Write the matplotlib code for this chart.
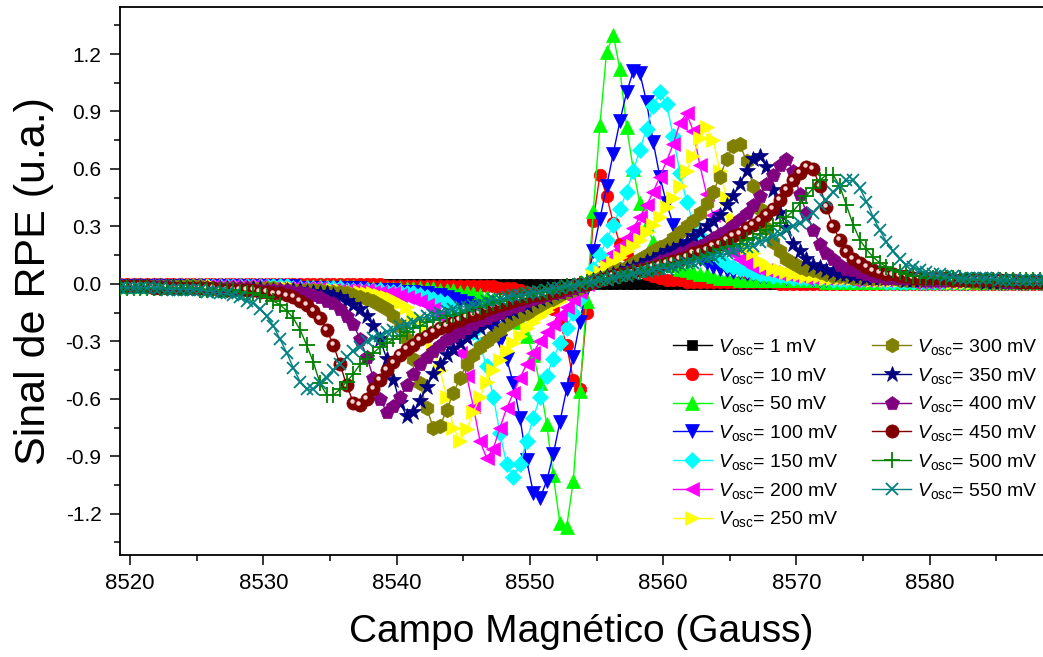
import numpy as np
import matplotlib
matplotlib.use("Agg")
import matplotlib.pyplot as plt
import matplotlib.transforms as mtransforms
from matplotlib.ticker import MultipleLocator, FixedLocator, FormatStrFormatter

plt.rcParams['font.family'] = ['Liberation Sans', 'DejaVu Sans']
plt.rcParams['mathtext.fontset'] = 'custom'
plt.rcParams['mathtext.rm'] = 'Liberation Sans'
plt.rcParams['mathtext.it'] = 'Liberation Sans:italic'
plt.rcParams['axes.unicode_minus'] = False

# varredura do campo: 8519.25 G ... 8588.75 G, passo 0.5 G (140 pontos)
FIELD_START = 8519.25
FIELD_STEP = 0.5
N_POINTS = 140

v_osc = ["1 mV", "10 mV", "50 mV", "100 mV", "150 mV", "200 mV", "250 mV",
         "300 mV", "350 mV", "400 mV", "450 mV", "500 mV", "550 mV"]

sinal_1 = [
    0.00, 0.00, 0.00, 0.00, 0.00, 0.00, 0.00, 0.00, 0.00, 0.00,
    0.00, 0.00, 0.00, 0.00, 0.00, 0.00, 0.00, 0.00, 0.00, 0.00,
    0.00, 0.00, 0.00, 0.00, 0.00, 0.00, 0.00, 0.00, 0.00, 0.00,
    0.00, 0.00, 0.00, 0.00, 0.00, 0.00, 0.00, 0.00, 0.00, 0.00,
    0.00, 0.00, 0.00, 0.00, 0.00, 0.00, 0.00, 0.00, 0.00, 0.00,
    0.00, 0.00, 0.00, 0.00, 0.00, 0.00, 0.00, 0.00, 0.00, 0.00,
    0.00, 0.00, 0.00, 0.00, 0.00, 0.00, 0.00, 0.00, 0.00, -0.01,
    0.00, 0.01, 0.00, 0.00, 0.00, 0.00, 0.00, 0.00, 0.00, 0.00,
    0.00, 0.00, 0.00, 0.00, 0.00, 0.00, 0.00, 0.00, 0.00, 0.00,
    0.00, 0.00, 0.00, 0.00, 0.00, 0.00, 0.00, 0.00, 0.00, 0.00,
    0.00, 0.00, 0.00, 0.00, 0.00, 0.00, 0.00, 0.00, 0.00, 0.00,
    0.00, 0.00, 0.00, 0.00, 0.00, 0.00, 0.00, 0.00, 0.00, 0.00,
    0.00, 0.00, 0.00, 0.00, 0.00, 0.00, 0.00, 0.00, 0.00, 0.00,
    0.00, 0.00, 0.00, 0.00, 0.00, 0.00, 0.00, 0.00, 0.00, 0.00,
]
sinal_10 = [
    0.00, 0.00, 0.00, 0.00, 0.00, 0.00, 0.00, 0.00, 0.00, 0.00,
    0.00, 0.00, 0.00, 0.00, 0.00, 0.00, 0.00, 0.00, 0.00, 0.00,
    0.00, 0.00, 0.00, 0.00, 0.00, 0.00, 0.00, 0.00, 0.00, 0.00,
    0.00, 0.00, 0.00, 0.00, 0.00, 0.00, 0.00, 0.00, 0.00, 0.00,
    -0.01, -0.01, -0.01, -0.01, -0.01, -0.01, -0.01, -0.01, -0.01, -0.01,
    -0.01, -0.01, -0.01, -0.01, -0.01, -0.01, -0.01, -0.02, -0.02, -0.02,
    -0.03, -0.04, -0.05, -0.07, -0.09, -0.13, -0.20, -0.32, -0.50, -0.55,
    -0.15, 0.33, 0.57, 0.46, 0.32, 0.21, 0.15, 0.10, 0.07, 0.05,
    0.04, 0.03, 0.02, 0.02, 0.02, 0.01, 0.01, 0.01, 0.01, 0.01,
    0.01, 0.01, 0.01, 0.01, 0.01, 0.01, 0.01, 0.01, 0.01, 0.00,
    0.00, 0.00, 0.00, 0.00, 0.00, 0.00, 0.00, 0.00, 0.00, 0.00,
    0.00, 0.00, 0.00, 0.00, 0.00, 0.00, 0.00, 0.00, 0.00, 0.00,
    0.00, 0.00, 0.00, 0.00, 0.00, 0.00, 0.00, 0.00, 0.00, 0.00,
    0.00, 0.00, 0.00, 0.00, 0.00, 0.00, 0.00, 0.00, 0.00, 0.00,
]
sinal_50 = [
    -0.01, -0.01, -0.01, -0.01, -0.01, -0.01, -0.01, -0.01, -0.01, -0.01,
    -0.01, -0.01, -0.01, -0.01, -0.01, -0.01, -0.01, -0.01, -0.01, -0.01,
    -0.01, -0.01, -0.01, -0.01, -0.01, -0.01, -0.01, -0.01, -0.01, -0.01,
    -0.01, -0.01, -0.01, -0.01, -0.01, -0.01, -0.02, -0.02, -0.02, -0.02,
    -0.02, -0.02, -0.02, -0.02, -0.02, -0.02, -0.02, -0.02, -0.03, -0.03,
    -0.03, -0.04, -0.04, -0.05, -0.06, -0.07, -0.08, -0.09, -0.12, -0.15,
    -0.20, -0.27, -0.37, -0.52, -0.73, -1.00, -1.25, -1.27, -1.03, -0.56,
    -0.09, 0.38, 0.83, 1.21, 1.30, 1.12, 0.82, 0.60, 0.42, 0.31,
    0.22, 0.17, 0.13, 0.10, 0.08, 0.07, 0.06, 0.05, 0.05, 0.04,
    0.03, 0.03, 0.03, 0.02, 0.02, 0.02, 0.02, 0.02, 0.02, 0.02,
    0.02, 0.02, 0.02, 0.02, 0.02, 0.02, 0.01, 0.01, 0.01, 0.01,
    0.01, 0.01, 0.01, 0.01, 0.01, 0.01, 0.01, 0.01, 0.01, 0.01,
    0.01, 0.01, 0.01, 0.01, 0.01, 0.01, 0.01, 0.01, 0.01, 0.01,
    0.01, 0.01, 0.01, 0.01, 0.01, 0.01, 0.01, 0.01, 0.01, 0.01,
]
sinal_100 = [
    -0.01, -0.01, -0.01, -0.01, -0.01, -0.01, -0.01, -0.01, -0.01, -0.01,
    -0.01, -0.01, -0.01, -0.01, -0.01, -0.01, -0.01, -0.01, -0.01, -0.01,
    -0.01, -0.01, -0.01, -0.01, -0.01, -0.01, -0.01, -0.02, -0.02, -0.02,
    -0.02, -0.02, -0.02, -0.02, -0.02, -0.02, -0.02, -0.03, -0.03, -0.03,
    -0.03, -0.03, -0.04, -0.04, -0.04, -0.05, -0.05, -0.06, -0.06, -0.07,
    -0.08, -0.09, -0.10, -0.12, -0.15, -0.18, -0.23, -0.30, -0.39, -0.52,
    -0.70, -0.92, -1.09, -1.12, -1.03, -0.89, -0.72, -0.55, -0.38, -0.20,
    -0.02, 0.17, 0.34, 0.51, 0.68, 0.85, 1.00, 1.11, 1.10, 0.95,
    0.74, 0.56, 0.42, 0.31, 0.25, 0.19, 0.16, 0.13, 0.11, 0.09,
    0.08, 0.07, 0.06, 0.06, 0.05, 0.05, 0.04, 0.04, 0.04, 0.04,
    0.03, 0.03, 0.03, 0.03, 0.02, 0.02, 0.02, 0.02, 0.02, 0.02,
    0.02, 0.02, 0.02, 0.02, 0.02, 0.02, 0.02, 0.02, 0.02, 0.02,
    0.02, 0.02, 0.01, 0.01, 0.01, 0.01, 0.01, 0.01, 0.01, 0.01,
    0.01, 0.01, 0.01, 0.01, 0.01, 0.01, 0.01, 0.01, 0.01, 0.01,
]
sinal_150 = [
    -0.01, -0.01, -0.01, -0.01, -0.01, -0.01, -0.01, -0.01, -0.01, -0.01,
    -0.01, -0.01, -0.01, -0.01, -0.01, -0.01, -0.01, -0.01, -0.01, -0.01,
    -0.01, -0.01, -0.01, -0.01, -0.01, -0.01, -0.02, -0.02, -0.02, -0.02,
    -0.02, -0.02, -0.02, -0.02, -0.03, -0.03, -0.03, -0.03, -0.03, -0.03,
    -0.04, -0.04, -0.04, -0.05, -0.05, -0.06, -0.07, -0.08, -0.09, -0.10,
    -0.13, -0.16, -0.20, -0.25, -0.32, -0.43, -0.59, -0.78, -0.94, -1.01,
    -0.94, -0.82, -0.70, -0.59, -0.48, -0.39, -0.31, -0.23, -0.15, -0.08,
    0.00, 0.08, 0.15, 0.23, 0.31, 0.39, 0.48, 0.59, 0.70, 0.81,
    0.93, 1.00, 0.94, 0.77, 0.58, 0.43, 0.32, 0.25, 0.20, 0.16,
    0.13, 0.10, 0.09, 0.08, 0.07, 0.06, 0.05, 0.05, 0.04, 0.04,
    0.04, 0.03, 0.03, 0.03, 0.03, 0.03, 0.03, 0.02, 0.02, 0.02,
    0.02, 0.02, 0.02, 0.02, 0.02, 0.01, 0.01, 0.01, 0.01, 0.01,
    0.01, 0.01, 0.01, 0.01, 0.01, 0.01, 0.01, 0.01, 0.01, 0.01,
    0.01, 0.01, 0.01, 0.01, 0.01, 0.01, 0.01, 0.01, 0.01, 0.01,
]
sinal_200 = [
    -0.01, -0.01, -0.01, -0.01, -0.01, -0.01, -0.01, -0.01, -0.01, -0.01,
    -0.01, -0.01, -0.01, -0.01, -0.01, -0.01, -0.01, -0.01, -0.01, -0.01,
    -0.01, -0.01, -0.02, -0.02, -0.02, -0.02, -0.02, -0.02, -0.02, -0.02,
    -0.02, -0.03, -0.03, -0.03, -0.03, -0.03, -0.03, -0.03, -0.04, -0.04,
    -0.05, -0.05, -0.06, -0.07, -0.08, -0.09, -0.11, -0.13, -0.17, -0.21,
    -0.26, -0.36, -0.48, -0.64, -0.82, -0.91, -0.86, -0.75, -0.65, -0.57,
    -0.49, -0.42, -0.36, -0.30, -0.25, -0.21, -0.16, -0.12, -0.08, -0.04,
    0.00, 0.04, 0.08, 0.12, 0.16, 0.20, 0.24, 0.29, 0.35, 0.41,
    0.48, 0.56, 0.64, 0.73, 0.84, 0.89, 0.80, 0.62, 0.47, 0.36,
    0.26, 0.20, 0.16, 0.13, 0.11, 0.09, 0.08, 0.07, 0.06, 0.05,
    0.05, 0.04, 0.04, 0.03, 0.03, 0.03, 0.03, 0.03, 0.03, 0.03,
    0.02, 0.02, 0.02, 0.02, 0.02, 0.02, 0.02, 0.02, 0.02, 0.01,
    0.01, 0.01, 0.01, 0.01, 0.01, 0.01, 0.01, 0.01, 0.01, 0.01,
    0.01, 0.01, 0.01, 0.01, 0.01, 0.01, 0.01, 0.01, 0.01, 0.01,
]
sinal_250 = [
    -0.01, -0.01, -0.01, -0.01, -0.01, -0.01, -0.01, -0.01, -0.01, -0.01,
    -0.01, -0.01, -0.01, -0.01, -0.01, -0.02, -0.02, -0.02, -0.02, -0.02,
    -0.02, -0.02, -0.02, -0.02, -0.02, -0.02, -0.02, -0.03, -0.03, -0.03,
    -0.03, -0.03, -0.03, -0.03, -0.04, -0.04, -0.04, -0.05, -0.05, -0.06,
    -0.07, -0.08, -0.10, -0.12, -0.16, -0.19, -0.25, -0.34, -0.45, -0.59,
    -0.75, -0.82, -0.76, -0.67, -0.59, -0.51, -0.45, -0.40, -0.35, -0.31,
    -0.27, -0.23, -0.20, -0.17, -0.14, -0.11, -0.09, -0.06, -0.04, -0.01,
    0.01, 0.04, 0.06, 0.09, 0.11, 0.14, 0.17, 0.20, 0.23, 0.27,
    0.31, 0.35, 0.40, 0.45, 0.51, 0.59, 0.67, 0.76, 0.82, 0.75,
    0.59, 0.45, 0.34, 0.25, 0.19, 0.16, 0.12, 0.10, 0.08, 0.07,
    0.06, 0.05, 0.05, 0.04, 0.04, 0.04, 0.03, 0.03, 0.03, 0.03,
    0.03, 0.03, 0.03, 0.02, 0.02, 0.02, 0.02, 0.02, 0.02, 0.02,
    0.02, 0.02, 0.02, 0.02, 0.02, 0.01, 0.01, 0.01, 0.01, 0.01,
    0.01, 0.01, 0.01, 0.01, 0.01, 0.01, 0.01, 0.01, 0.01, 0.01,
]
sinal_300 = [
    -0.01, -0.01, -0.01, -0.01, -0.01, -0.01, -0.01, -0.01, -0.01, -0.01,
    -0.01, -0.01, -0.01, -0.02, -0.02, -0.02, -0.02, -0.02, -0.02, -0.02,
    -0.02, -0.02, -0.02, -0.02, -0.03, -0.03, -0.03, -0.03, -0.03, -0.03,
    -0.03, -0.04, -0.04, -0.04, -0.05, -0.06, -0.07, -0.08, -0.09, -0.11,
    -0.13, -0.17, -0.22, -0.29, -0.39, -0.52, -0.65, -0.75, -0.74, -0.66,
    -0.57, -0.49, -0.42, -0.37, -0.33, -0.30, -0.27, -0.24, -0.21, -0.19,
    -0.17, -0.15, -0.13, -0.11, -0.09, -0.08, -0.06, -0.04, -0.03, -0.02,
    0.00, 0.02, 0.03, 0.04, 0.06, 0.08, 0.09, 0.11, 0.13, 0.15,
    0.17, 0.19, 0.21, 0.24, 0.27, 0.30, 0.33, 0.37, 0.42, 0.48,
    0.56, 0.65, 0.72, 0.73, 0.64, 0.51, 0.39, 0.29, 0.22, 0.17,
    0.13, 0.11, 0.09, 0.08, 0.07, 0.06, 0.05, 0.04, 0.04, 0.04,
    0.03, 0.03, 0.03, 0.03, 0.03, 0.03, 0.03, 0.02, 0.02, 0.02,
    0.02, 0.02, 0.02, 0.02, 0.02, 0.02, 0.02, 0.02, 0.01, 0.01,
    0.01, 0.01, 0.01, 0.01, 0.01, 0.01, 0.01, 0.01, 0.01, 0.01,
]
sinal_350 = [
    -0.01, -0.01, -0.01, -0.01, -0.01, -0.01, -0.01, -0.01, -0.01, -0.01,
    -0.02, -0.02, -0.02, -0.02, -0.02, -0.02, -0.02, -0.02, -0.02, -0.02,
    -0.02, -0.02, -0.03, -0.03, -0.03, -0.03, -0.03, -0.03, -0.04, -0.04,
    -0.05, -0.05, -0.06, -0.07, -0.09, -0.11, -0.13, -0.17, -0.22, -0.29,
    -0.39, -0.50, -0.62, -0.69, -0.67, -0.61, -0.54, -0.47, -0.42, -0.37,
    -0.34, -0.31, -0.28, -0.25, -0.23, -0.21, -0.19, -0.17, -0.15, -0.14,
    -0.12, -0.11, -0.09, -0.08, -0.07, -0.05, -0.04, -0.03, -0.02, -0.01,
    0.01, 0.02, 0.03, 0.04, 0.05, 0.06, 0.08, 0.09, 0.10, 0.12,
    0.13, 0.15, 0.17, 0.18, 0.20, 0.22, 0.25, 0.27, 0.30, 0.33,
    0.36, 0.41, 0.46, 0.52, 0.59, 0.65, 0.67, 0.61, 0.49, 0.37,
    0.29, 0.21, 0.17, 0.13, 0.10, 0.09, 0.07, 0.06, 0.05, 0.05,
    0.04, 0.04, 0.03, 0.03, 0.03, 0.03, 0.03, 0.03, 0.02, 0.02,
    0.02, 0.02, 0.02, 0.02, 0.02, 0.02, 0.02, 0.02, 0.02, 0.02,
    0.01, 0.01, 0.01, 0.01, 0.01, 0.01, 0.01, 0.01, 0.01, 0.01,
]
sinal_400 = [
    -0.01, -0.01, -0.01, -0.01, -0.01, -0.01, -0.01, -0.01, -0.02, -0.02,
    -0.02, -0.02, -0.02, -0.02, -0.02, -0.02, -0.02, -0.02, -0.02, -0.02,
    -0.03, -0.03, -0.03, -0.03, -0.03, -0.03, -0.04, -0.04, -0.05, -0.06,
    -0.07, -0.09, -0.10, -0.13, -0.17, -0.21, -0.29, -0.38, -0.49, -0.60,
    -0.67, -0.64, -0.59, -0.53, -0.47, -0.42, -0.38, -0.35, -0.32, -0.29,
    -0.27, -0.25, -0.23, -0.21, -0.19, -0.18, -0.16, -0.15, -0.13, -0.12,
    -0.11, -0.09, -0.08, -0.07, -0.06, -0.05, -0.04, -0.03, -0.02, -0.01,
    0.00, 0.01, 0.02, 0.03, 0.04, 0.05, 0.06, 0.07, 0.08, 0.09,
    0.10, 0.12, 0.13, 0.14, 0.16, 0.17, 0.19, 0.20, 0.22, 0.24,
    0.26, 0.28, 0.31, 0.34, 0.37, 0.41, 0.46, 0.52, 0.57, 0.62,
    0.65, 0.59, 0.47, 0.37, 0.28, 0.21, 0.16, 0.13, 0.10, 0.08,
    0.07, 0.06, 0.05, 0.04, 0.04, 0.03, 0.03, 0.03, 0.03, 0.03,
    0.03, 0.02, 0.02, 0.02, 0.02, 0.02, 0.02, 0.02, 0.02, 0.02,
    0.02, 0.02, 0.02, 0.01, 0.01, 0.01, 0.01, 0.01, 0.01, 0.01,
]
sinal_450 = [
    -0.01, -0.01, -0.01, -0.01, -0.01, -0.02, -0.02, -0.02, -0.02, -0.02,
    -0.02, -0.02, -0.02, -0.02, -0.02, -0.03, -0.03, -0.03, -0.03, -0.03,
    -0.03, -0.04, -0.04, -0.05, -0.05, -0.06, -0.07, -0.09, -0.11, -0.14,
    -0.18, -0.24, -0.32, -0.42, -0.53, -0.62, -0.63, -0.60, -0.55, -0.50,
    -0.45, -0.41, -0.37, -0.34, -0.32, -0.29, -0.27, -0.25, -0.23, -0.22,
    -0.20, -0.19, -0.17, -0.16, -0.15, -0.13, -0.12, -0.11, -0.10, -0.09,
    -0.08, -0.07, -0.06, -0.06, -0.05, -0.04, -0.03, -0.02, -0.01, 0.00,
    0.00, 0.01, 0.02, 0.03, 0.04, 0.05, 0.05, 0.06, 0.07, 0.08,
    0.09, 0.10, 0.11, 0.12, 0.13, 0.14, 0.16, 0.17, 0.18, 0.20,
    0.21, 0.23, 0.25, 0.26, 0.29, 0.31, 0.33, 0.36, 0.39, 0.44,
    0.49, 0.54, 0.58, 0.61, 0.60, 0.51, 0.40, 0.30, 0.23, 0.17,
    0.13, 0.11, 0.09, 0.07, 0.06, 0.05, 0.05, 0.04, 0.04, 0.03,
    0.03, 0.03, 0.03, 0.03, 0.03, 0.02, 0.02, 0.02, 0.02, 0.02,
    0.02, 0.02, 0.02, 0.02, 0.02, 0.01, 0.01, 0.01, 0.01, 0.01,
]
sinal_500 = [
    -0.02, -0.02, -0.02, -0.02, -0.02, -0.02, -0.02, -0.02, -0.02, -0.02,
    -0.02, -0.02, -0.03, -0.03, -0.03, -0.03, -0.03, -0.03, -0.04, -0.05,
    -0.05, -0.06, -0.07, -0.09, -0.11, -0.14, -0.18, -0.24, -0.32, -0.41,
    -0.52, -0.58, -0.58, -0.55, -0.51, -0.47, -0.42, -0.39, -0.36, -0.33,
    -0.31, -0.29, -0.27, -0.25, -0.23, -0.22, -0.20, -0.19, -0.18, -0.17,
    -0.16, -0.15, -0.14, -0.12, -0.12, -0.11, -0.10, -0.09, -0.08, -0.07,
    -0.06, -0.06, -0.05, -0.04, -0.04, -0.03, -0.02, -0.01, -0.01, 0.00,
    0.01, 0.01, 0.02, 0.03, 0.03, 0.04, 0.05, 0.06, 0.06, 0.07,
    0.08, 0.09, 0.10, 0.10, 0.11, 0.12, 0.13, 0.14, 0.15, 0.16,
    0.18, 0.19, 0.20, 0.21, 0.23, 0.24, 0.26, 0.28, 0.30, 0.32,
    0.35, 0.38, 0.42, 0.46, 0.50, 0.54, 0.57, 0.57, 0.51, 0.41,
    0.31, 0.23, 0.18, 0.14, 0.11, 0.09, 0.07, 0.06, 0.05, 0.04,
    0.04, 0.03, 0.03, 0.03, 0.03, 0.03, 0.03, 0.02, 0.02, 0.02,
    0.02, 0.02, 0.02, 0.02, 0.02, 0.02, 0.02, 0.02, 0.02, 0.02,
]
sinal_550 = [
    -0.02, -0.02, -0.02, -0.02, -0.02, -0.02, -0.02, -0.03, -0.03, -0.03,
    -0.03, -0.03, -0.03, -0.04, -0.04, -0.05, -0.05, -0.06, -0.07, -0.09,
    -0.10, -0.13, -0.17, -0.22, -0.29, -0.36, -0.44, -0.51, -0.55, -0.55,
    -0.52, -0.49, -0.45, -0.42, -0.38, -0.35, -0.33, -0.30, -0.28, -0.27,
    -0.25, -0.24, -0.22, -0.21, -0.20, -0.18, -0.17, -0.16, -0.15, -0.14,
    -0.13, -0.12, -0.12, -0.11, -0.10, -0.09, -0.08, -0.08, -0.07, -0.06,
    -0.06, -0.05, -0.04, -0.04, -0.03, -0.02, -0.02, -0.01, -0.01, 0.00,
    0.01, 0.01, 0.02, 0.02, 0.03, 0.04, 0.04, 0.05, 0.06, 0.06,
    0.07, 0.08, 0.08, 0.09, 0.10, 0.11, 0.11, 0.12, 0.13, 0.14,
    0.15, 0.16, 0.17, 0.18, 0.19, 0.20, 0.22, 0.23, 0.25, 0.26,
    0.28, 0.30, 0.32, 0.34, 0.37, 0.41, 0.44, 0.48, 0.51, 0.54,
    0.54, 0.50, 0.43, 0.35, 0.28, 0.22, 0.17, 0.13, 0.10, 0.09,
    0.07, 0.06, 0.05, 0.05, 0.04, 0.04, 0.03, 0.03, 0.03, 0.03,
    0.03, 0.03, 0.02, 0.02, 0.02, 0.02, 0.02, 0.02, 0.02, 0.02,
]

sinais = [sinal_1, sinal_10, sinal_50, sinal_100, sinal_150, sinal_200, sinal_250,
          sinal_300, sinal_350, sinal_400, sinal_450, sinal_500, sinal_550]

y_ticks = [-1.2, -0.9, -0.6, -0.3, 0.0, 0.3, 0.6, 0.9, 1.2]

# estilo de cada curva (marcador, cor, tamanho)
estilos = [
    dict(marker='s', color='#000000', ms=7),
    dict(marker='o', color='#ff0000', ms=9),
    dict(marker='^', color='#00ff00', ms=10),
    dict(marker='v', color='#0000ff', ms=10),
    dict(marker='D', color='#00ffff', ms=8.5),
    dict(marker='<', color='#ff00ff', ms=10),
    dict(marker='>', color='#ffff00', ms=10),
    dict(marker='h', color='#808000', ms=10.5),
    dict(marker='*', color='#000080', ms=12),
    dict(marker='p', color='#800080', ms=10.5),
    dict(marker='o', color='#800000', ms=9.5),
    dict(marker='+', color='#008000', ms=11),
    dict(marker='x', color='#008080', ms=9),
]

campo = FIELD_START + FIELD_STEP * np.arange(N_POINTS)
for nome, s in zip(v_osc, sinais):
    assert len(s) == N_POINTS, (nome, len(s))

fig = plt.figure(figsize=(10.43, 6.57), dpi=100)
ax = fig.add_axes([0.1146, 0.1548, 0.8854, 0.8338])

handles = []
for k, (nome, s, st) in enumerate(zip(v_osc, sinais, estilos)):
    mew = 1.3 if st['marker'] in ('+', 'x') else 0.5
    ln, = ax.plot(campo, s, linestyle='-', lw=1.0, color=st['color'],
                  marker=st['marker'], ms=st['ms'], mfc=st['color'],
                  mec=st['color'], mew=mew, zorder=2 + k,
                  label=r'$V_{\rm osc}$= ' + nome)
    handles.append(ln)
    if nome == "450 mV":
        # brilho das esferas
        tr = mtransforms.offset_copy(ax.transData, fig=fig, x=-1.3, y=1.3, units='points')
        ax.plot(campo, s, linestyle='none', marker='o', ms=3.2, mfc='#f2d6d6',
                mec='none', transform=tr, zorder=2 + k + 0.5)

ax.set_xlim(8519.2, 8588.5)
ax.set_ylim(-1.417, 1.443)

ax.xaxis.set_major_locator(MultipleLocator(10))
ax.xaxis.set_minor_locator(MultipleLocator(5))
ax.yaxis.set_major_locator(FixedLocator(y_ticks))
ax.yaxis.set_minor_locator(MultipleLocator(0.15))
ax.yaxis.set_major_formatter(FormatStrFormatter('%.1f'))

ax.tick_params(which='both', direction='out', top=False, right=False, width=1.1)
ax.tick_params(which='major', length=7, pad=6)
ax.tick_params(axis='y', which='major', labelsize=15)
ax.tick_params(axis='x', which='major', labelsize=16)
ax.tick_params(which='minor', length=4)
for side in ('left', 'bottom', 'top'):
    ax.spines[side].set_linewidth(1.3)
ax.spines['right'].set_visible(False)

ax.set_xlabel('Campo Magnético (Gauss)', fontsize=28, labelpad=14)
ax.set_ylabel('Sinal de RPE (u.a.)', fontsize=31, labelpad=8)

# 13 entradas em 2 colunas -> 7 + 6, como no original
leg = ax.legend(handles, [h.get_label() for h in handles],
                ncol=2, loc='upper left', bbox_to_anchor=(0.6376, 0.499),
                bbox_transform=fig.transFigure, frameon=False, fontsize=14,
                handlelength=2.0, handletextpad=0.3, columnspacing=1.75,
                labelspacing=0.45, numpoints=1, borderaxespad=0)

fig.savefig('out.png', dpi=100)
